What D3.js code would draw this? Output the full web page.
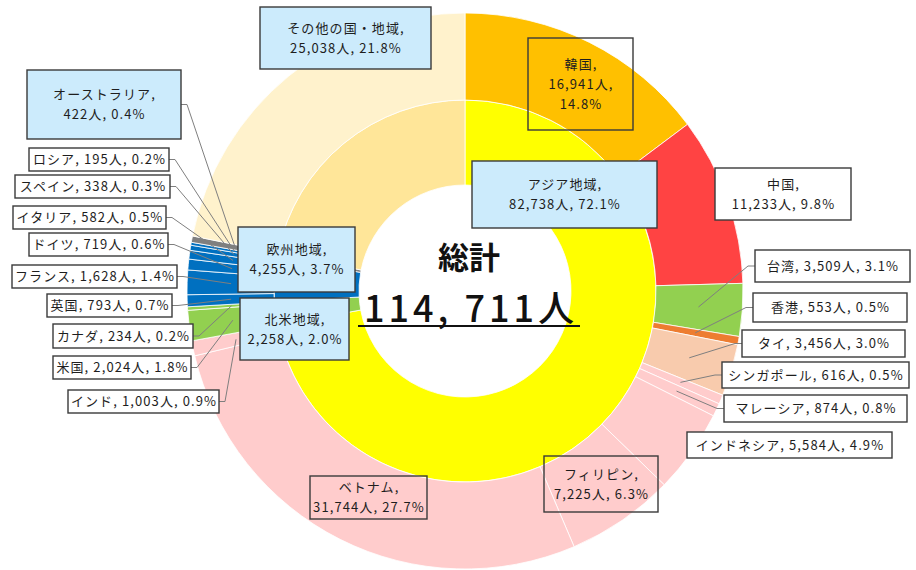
<!DOCTYPE html>
<html><head><meta charset="utf-8">
<script src="https://cdn.jsdelivr.net/npm/d3@7"></script>
<style>
html,body{margin:0;padding:0;background:#fff;}
svg{display:block;}
text{font-family:"Noto Sans CJK JP","Noto Sans",sans-serif;}
</style></head>
<body>
<svg id="chart" width="916" height="570"></svg>
<script>
// ---- data ----
const regionNames = ["アジア地域","北米地域","欧州地域","オーストラリア","その他の国・地域"];
const regionValues = [82738, 2258, 4255, 422, 25038];
const countryNames = ["韓国","中国","台湾","香港","タイ","シンガポール","マレーシア","インドネシア","フィリピン","ベトナム","インド",
  "米国","カナダ",
  "英国","フランス","ドイツ","イタリア","スペイン","ロシア",
  "オーストラリア(国)","その他(国)"];
const countryValues = [16941,11233,3509,553,3456,616,874,5584,7225,31744,1003,
  2024,234,
  793,1628,719,582,338,195,
  422,25038];
const totalLabel = "総計";

// ---- styles ----
const regionColors = ["#FFFF00","#92D050","#0070C0","#7F7F7F","#FFE699"];
const countryColors = ["#FFC000","#FF4343","#92D050","#ED7D31","#F8CBAD","#FFCCCC","#FFCCCC","#FFCCCC","#FFCCCC","#FFCCCC","#FFCCCC",
  "#92D050","#92D050",
  "#0070C0","#0070C0","#0070C0","#0070C0","#0070C0","#0070C0",
  "#7F7F7F","#FFF2CC"];

// label layout: box geometry, line mode, fill, leader side
const labelLayout = {
  "その他の国・地域": {ring:"in", x:260,y:7,w:171,h:62,mode:2,fill:"#CCEBFC"},
  "アジア地域":      {ring:"in", x:472,y:161,w:185,h:67,mode:2,fill:"#CCEBFC"},
  "欧州地域":        {ring:"in", x:238,y:227,w:117,h:65,mode:2,fill:"#CCEBFC"},
  "北米地域":        {ring:"in", x:240,y:298,w:109,h:62,mode:2,fill:"#CCEBFC"},
  "オーストラリア":  {ring:"in", x:27,y:70,w:154,h:69,mode:2,fill:"#CCEBFC",leader:"right",slice:"オーストラリア(国)"},
  "韓国":            {ring:"out",x:528,y:38,w:105,h:92,mode:3,fill:"none"},
  "中国":            {ring:"out",x:715,y:168,w:136,h:52,mode:2,fill:"#fff"},
  "台湾":            {ring:"out",x:755,y:250,w:155,h:32,mode:1,fill:"#fff",leader:"left"},
  "香港":            {ring:"out",x:753,y:293,w:154,h:29,mode:1,fill:"#fff",leader:"left"},
  "タイ":            {ring:"out",x:742,y:330,w:163,h:27,mode:1,fill:"#fff",leader:"left"},
  "シンガポール":    {ring:"out",x:722,y:362,w:187,h:26,mode:1,fill:"#fff",leader:"left"},
  "マレーシア":      {ring:"out",x:724,y:395,w:183,h:27,mode:1,fill:"#fff",leader:"left"},
  "インドネシア":    {ring:"out",x:687,y:432,w:205,h:26,mode:1,fill:"#fff"},
  "フィリピン":      {ring:"out",x:544,y:456,w:114,h:56,mode:2,fill:"none"},
  "ベトナム":        {ring:"out",x:310,y:476,w:117,h:43,mode:2,fill:"none"},
  "インド":          {ring:"out",x:68,y:390,w:151,h:23,mode:1,fill:"#fff",leader:"right"},
  "米国":            {ring:"out",x:53,y:356,w:138,h:23,mode:1,fill:"#fff",leader:"right"},
  "カナダ":          {ring:"out",x:53,y:324,w:140,h:24,mode:1,fill:"#fff",leader:"right"},
  "英国":            {ring:"out",x:47,y:294,w:125,h:23,mode:1,fill:"#fff",leader:"right"},
  "フランス":        {ring:"out",x:12,y:265,w:165,h:23,mode:1,fill:"#fff",leader:"right"},
  "ドイツ":          {ring:"out",x:29,y:233,w:139,h:23,mode:1,fill:"#fff",leader:"right"},
  "イタリア":        {ring:"out",x:13,y:206,w:153,h:23,mode:1,fill:"#fff",leader:"right"},
  "スペイン":        {ring:"out",x:15,y:175,w:155,h:23,mode:1,fill:"#fff",leader:"right"},
  "ロシア":          {ring:"out",x:29,y:148,w:140,h:23,mode:1,fill:"#fff",leader:"right"}
};

const W = 916, H = 570;
const cx = 465, cy = 291;
const rHole = 106, rMid = 191, rOut = 278, rLeader = 234;
const total = d3.sum(regionValues);

const svg = d3.select("#chart");
const g = svg.append("g").attr("transform", `translate(${cx},${cy})`);

const pie = d3.pie().sort(null).value(d => d.value).startAngle(0).endAngle(2*Math.PI);
const inData = pie(regionNames.map((n,i)=>({name:n,value:regionValues[i],color:regionColors[i]})));
const outData = pie(countryNames.map((n,i)=>({name:n,value:countryValues[i],color:countryColors[i]})));

const arcIn = d3.arc().innerRadius(rHole).outerRadius(rMid);
const arcOut = d3.arc().innerRadius(rMid).outerRadius(rOut);

g.selectAll("path.in").data(inData).join("path").attr("class","in")
  .attr("d", arcIn).attr("fill", d=>d.data.color).attr("stroke","#fff").attr("stroke-width",0.8);
g.selectAll("path.out").data(outData).join("path").attr("class","out")
  .attr("d", arcOut).attr("fill", d=>d.data.color).attr("stroke","#fff").attr("stroke-width",0.8);

const fmt = d3.format(",");
const pct = v => (v/total*100).toFixed(1) + "%";

function labelLines(name, value, mode){
  const n = name + ",", v = fmt(value) + "人", p = pct(value);
  if (mode === 1) return [n + " " + v + ", " + p];
  if (mode === 2) return [n, v + ", " + p];
  return [n, v + ",", p];
}

function sliceFor(name){
  return outData.find(d => d.data.name === name) || inData.find(d => d.data.name === name);
}

const labels = [];
regionNames.forEach((n,i)=>labels.push({name:n,value:regionValues[i]}));
countryNames.forEach((n,i)=>{ if (labelLayout[n]) labels.push({name:n,value:countryValues[i]}); });

// leader lines
const lg = svg.append("g");
labels.forEach(l => {
  const L = labelLayout[l.name];
  if (!L || !L.leader) return;
  const s = sliceFor(L.slice || l.name);
  const a = (s.startAngle + s.endAngle)/2;
  const px = cx + rLeader*Math.sin(a), py = cy - rLeader*Math.cos(a);
  const ay = L.y + L.h/2;
  const ax = L.leader === "right" ? L.x + L.w : L.x;
  const ex = L.leader === "right" ? ax + 6 : ax - 7;
  lg.append("polyline").attr("points", `${ax},${ay} ${ex},${ay} ${px},${py}`)
    .attr("fill","none").attr("stroke","#7f7f7f").attr("stroke-width",1);
});

// boxes + text
const bg = svg.append("g");
labels.forEach(l => {
  const L = labelLayout[l.name];
  if (!L) return;
  bg.append("rect").attr("x",L.x).attr("y",L.y).attr("width",L.w).attr("height",L.h)
    .attr("fill",L.fill).attr("stroke","#3a3a3a").attr("stroke-width",1.4);
  const lines = labelLines(l.name, l.value, L.mode);
  const lh = 20;
  const y0 = L.y + L.h/2 - (lines.length-1)*lh/2;
  const t = bg.append("text").attr("x", L.x + L.w/2).attr("text-anchor","middle")
    .attr("font-size", 13).attr("letter-spacing", 1.1).attr("fill","#1e1e1e");
  lines.forEach((s,i)=>{
    t.append("tspan").attr("x", L.x + L.w/2 + 0.5).attr("y", y0 + i*lh).attr("dy","0.36em").text(s);
  });
});

// center total
svg.append("text").attr("x", 469).attr("y", 258).attr("text-anchor","middle").attr("dy","0.36em")
  .attr("font-size", 31).attr("font-weight", 700).attr("fill","#111").text(totalLabel);
const totalStr = d3.format(",")(total).replace(",", ", ") + "人";
svg.append("text").attr("x", 471).attr("y", 309).attr("text-anchor","middle").attr("dy","0.36em")
  .attr("font-size", 36).attr("font-weight", 500).attr("letter-spacing", 4).attr("fill","#111").text(totalStr);
svg.append("line").attr("x1",358).attr("x2",580).attr("y1",326).attr("y2",326)
  .attr("stroke","#111").attr("stroke-width",2);
</script>
</body></html>
